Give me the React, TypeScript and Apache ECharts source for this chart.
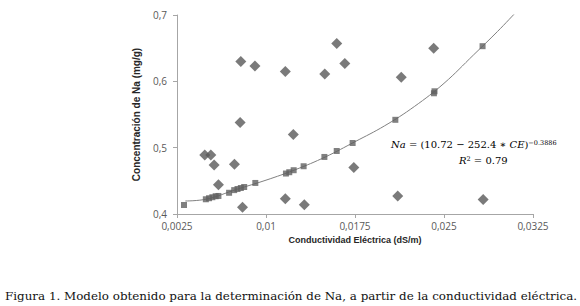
import React, { useEffect, useRef } from "react";
import * as echarts from "echarts";

// Observed values (diamonds): [conductividad dS/m, Na mg/g]
const observedCE = [0.00484, 0.00535, 0.00563, 0.00599, 0.00734, 0.00782, 0.00788, 0.00802, 0.00907, 0.01163, 0.01163, 0.0123, 0.01323, 0.01495, 0.01596, 0.01664, 0.0174, 0.0211, 0.0214, 0.02413, 0.0283];
const observedNa = [0.489, 0.489, 0.474, 0.444, 0.475, 0.538, 0.630, 0.410, 0.623, 0.615, 0.423, 0.520, 0.414, 0.611, 0.657, 0.627, 0.470, 0.427, 0.606, 0.650, 0.422];

// Model values (squares)
const modelCE = [0.00309, 0.00493, 0.0052, 0.00548, 0.00576, 0.00599, 0.00689, 0.00732, 0.0076, 0.00788, 0.00816, 0.0091, 0.01168, 0.01196, 0.01233, 0.01317, 0.01492, 0.01596, 0.0173, 0.0209, 0.02415, 0.0242, 0.02825];
const modelNa = [0.4136, 0.4222, 0.4238, 0.4253, 0.4268, 0.4272, 0.432, 0.436, 0.4377, 0.4392, 0.4407, 0.4468, 0.461, 0.463, 0.466, 0.472, 0.486, 0.495, 0.507, 0.542, 0.582, 0.585, 0.653];

// Trend line
const trendCE = [0.0032, 0.005, 0.0075, 0.01, 0.0125, 0.015, 0.0175, 0.02, 0.0225, 0.025, 0.0275, 0.0295, 0.031];
const trendNa = [0.4196, 0.4225, 0.437, 0.451, 0.467, 0.486, 0.509, 0.533, 0.562, 0.597, 0.640, 0.675, 0.703];

const xTicks = [0.0025, 0.01, 0.0175, 0.025, 0.0325];
const yTicks = [0.4, 0.5, 0.6, 0.7];

const xName = "Conductividad Eléctrica (dS/m)";
const yName = "Concentración de Na (mg/g)";
const caption = "Figura 1. Modelo obtenido para la determinación de Na, a partir de la conductividad eléctrica.";

const fmt = (v: number) => String(v).replace(".", ",");

export default function App() {
  const ref = useRef<HTMLDivElement>(null);
  useEffect(() => {
    if (!ref.current) return;
    const chart = echarts.init(ref.current, undefined, { renderer: "svg" });
    const axisColor = "#a6a6a6";
    const labelColor = "#595959";
    chart.setOption({
      animation: false,
      backgroundColor: "#ffffff",
      grid: { left: 177, right: 47, top: 15, bottom: 92 },
      xAxis: {
        type: "value",
        min: xTicks[0],
        max: xTicks[xTicks.length - 1],
        interval: xTicks[1] - xTicks[0],
        name: xName,
        nameLocation: "middle",
        nameGap: 21,
        nameTextStyle: { fontFamily: "Liberation Sans", fontWeight: "bold", fontSize: 9, color: "#262626" },
        axisLine: { show: true, lineStyle: { color: axisColor, width: 1 } },
        axisTick: { show: true, length: 4, lineStyle: { color: axisColor } },
        splitLine: { show: false },
        axisLabel: { color: labelColor, fontSize: 10, lineHeight: 10, fontFamily: "Open Sans", margin: 7, formatter: (v: number) => fmt(+v.toFixed(4)) },
      },
      yAxis: {
        type: "value",
        min: yTicks[0],
        max: yTicks[yTicks.length - 1],
        interval: 0.1,
        name: yName,
        nameLocation: "middle",
        nameGap: 36,
        nameTextStyle: { fontFamily: "Liberation Sans", fontWeight: "bold", fontSize: 10, color: "#262626" },
        axisLine: { show: true, lineStyle: { color: axisColor, width: 1 } },
        axisTick: { show: true, length: 4, lineStyle: { color: axisColor } },
        splitLine: { show: false },
        axisLabel: { color: labelColor, fontSize: 10, lineHeight: 10, fontFamily: "Open Sans", margin: 10, formatter: (v: number) => fmt(+v.toFixed(1)) },
      },
      series: [
        {
          type: "line",
          data: trendCE.map((x, i) => [x, trendNa[i]]),
          smooth: 0.4,
          showSymbol: false,
          symbol: "none",
          lineStyle: { color: "#808080", width: 1 },
          z: 1,
        },
        {
          type: "scatter",
          data: modelCE.map((x, i) => [x, modelNa[i]]),
          symbol: "rect",
          symbolSize: 6,
          itemStyle: { color: "#606060" },
          z: 2,
        },
        {
          type: "scatter",
          data: observedCE.map((x, i) => [x, observedNa[i]]),
          symbol: "diamond",
          symbolSize: 11,
          itemStyle: { color: "#595959" },
          z: 3,
        },
      ],
      graphic: [
        {
          type: "text",
          left: 391,
          top: 139,
          style: {
            text: "{i|Na} = (10.72 − 252.4 ∗ {i|CE}){sup|−0.3886}",
            fontFamily: "DejaVu Serif",
            fontSize: 10,
            fill: "#000000",
            rich: {
              i: { fontStyle: "italic", fontFamily: "DejaVu Serif", fontSize: 10, fill: "#000000" },
              sup: { fontSize: 6.5, fontFamily: "DejaVu Serif", verticalAlign: "top", fill: "#000000" },
            },
          },
        },
        {
          type: "text",
          left: 459,
          top: 155,
          style: {
            text: "{i|R}{sup|2} = 0.79",
            fontFamily: "DejaVu Serif",
            fontSize: 10,
            fill: "#000000",
            rich: {
              i: { fontStyle: "italic", fontFamily: "DejaVu Serif", fontSize: 10, fill: "#000000" },
              sup: { fontSize: 6.5, fontFamily: "DejaVu Serif", verticalAlign: "top", fill: "#000000" },
            },
          },
        },
        {
          type: "text",
          left: 5,
          top: 290,
          style: { text: caption, fontFamily: "DejaVu Serif", fontSize: 11.9, fill: "#111111" },
        },
      ],
    });
    return () => chart.dispose();
  }, []);
  return <div ref={ref} style={{ position: "fixed", left: 0, top: 0, width: 580, height: 306, background: "#fff" }} />;
}
